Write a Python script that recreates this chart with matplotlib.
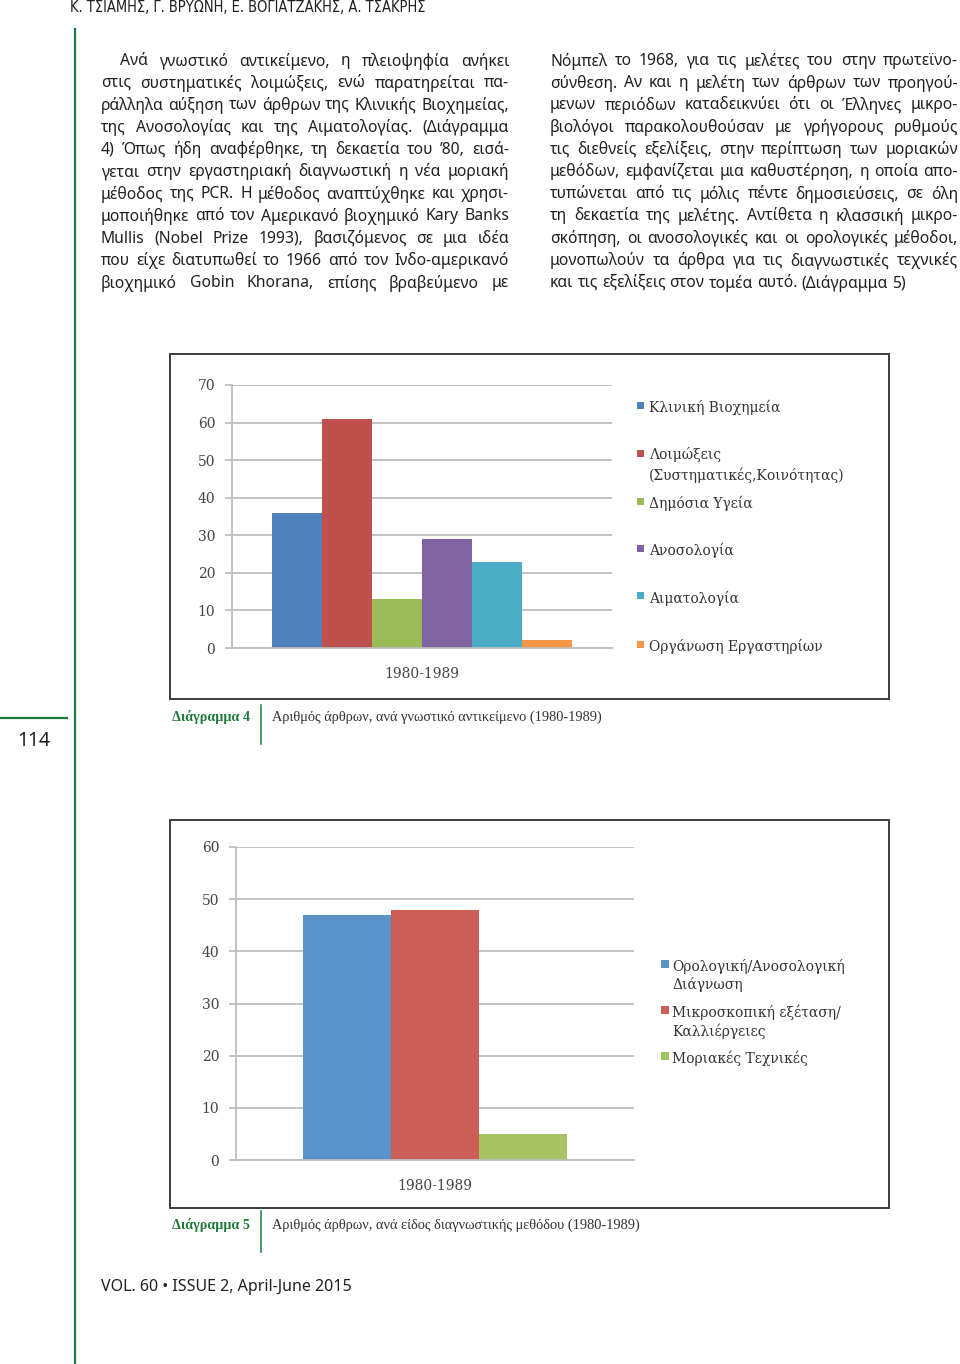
import matplotlib
matplotlib.use('Agg')
import matplotlib.pyplot as plt
from matplotlib.patches import Rectangle
from matplotlib.lines import Line2D

W, H = 960, 1364

# ---------------- data ----------------
period = '1980-1989'

subjects = ['Κλινική Βιοχημεία', 'Λοιμώξεις\n(Συστηματικές,Κοινότητας)', 'Δημόσια Υγεία',
            'Ανοσολογία', 'Αιματολογία', 'Οργάνωση Εργαστηρίων']
subject_counts = [36, 61, 13, 29, 23, 2]
subject_colors = ['#4f81bd', '#c0504d', '#9bbb59', '#8064a2', '#4bacc6', '#f79646']

methods = ['Ορολογική/Ανοσολογική\nΔιάγνωση', 'Μικροσκοπική εξέταση/\nΚαλλιέργειες', 'Μοριακές Τεχνικές']
method_counts = [47, 48, 5]
method_colors = ['#5b93cb', '#cc5e57', '#a6c263']

header = 'Κ. ΤΣΙΑΜΗΣ, Γ. ΒΡΥΩΝΗ, Ε. ΒΟΓΙΑΤΖΑΚΗΣ, Α. ΤΣΑΚΡΗΣ'
footer = 'VOL. 60 \u2022 ISSUE 2, April-June 2015'
page_no = '114'
caption4 = ('Διάγραμμα 4', 'Αριθμός άρθρων, ανά γνωστικό αντικείμενο (1980-1989)')
caption5 = ('Διάγραμμα 5', 'Αριθμός άρθρων, ανά είδος διαγνωστικής μεθόδου (1980-1989)')

left_col = [
    'Ανά γνωστικό αντικείμενο, η πλειοψηφία ανήκει',
    'στις συστηματικές λοιμώξεις, ενώ παρατηρείται πα-',
    'ράλληλα αύξηση των άρθρων της Κλινικής Βιοχημείας,',
    'της Ανοσολογίας και της Αιματολογίας. (Διάγραμμα',
    '4) Όπως ήδη αναφέρθηκε, τη δεκαετία του ’80, εισά-',
    'γεται στην εργαστηριακή διαγνωστική η νέα μοριακή',
    'μέθοδος της PCR. Η μέθοδος αναπτύχθηκε και χρησι-',
    'μοποιήθηκε από τον Αμερικανό βιοχημικό Kary Banks',
    'Mullis (Nobel Prize 1993), βασιζόμενος σε μια ιδέα',
    'που είχε διατυπωθεί το 1966 από τον Ινδο-αμερικανό',
    'βιοχημικό Gobin Khorana, επίσης βραβεύμενο με',
]
right_col = [
    'Νόμπελ το 1968, για τις μελέτες του στην πρωτεϊνο-',
    'σύνθεση. Αν και η μελέτη των άρθρων των προηγού-',
    'μενων περιόδων καταδεικνύει ότι οι Έλληνες μικρο-',
    'βιολόγοι παρακολουθούσαν με γρήγορους ρυθμούς',
    'τις διεθνείς εξελίξεις, στην περίπτωση των μοριακών',
    'μεθόδων, εμφανίζεται μια καθυστέρηση, η οποία απο-',
    'τυπώνεται από τις μόλις πέντε δημοσιεύσεις, σε όλη',
    'τη δεκαετία της μελέτης. Αντίθετα η κλασσική μικρο-',
    'σκόπηση, οι ανοσολογικές και οι ορολογικές μέθοδοι,',
    'μονοπωλούν τα άρθρα για τις διαγνωστικές τεχνικές',
    'και τις εξελίξεις στον τομέα αυτό. (Διάγραμμα 5)',
]

# ---------------- page ----------------
green = '#1f7a3c'
ink = '#231f20'
body_font = ['Noto Sans', 'DejaVu Sans']
chart_font = ['DejaVu Serif']
cap_font = ['Liberation Serif', 'DejaVu Serif']

fig = plt.figure(figsize=(W / 100, H / 100), dpi=100)
fig.patch.set_facecolor('white')
r = fig.canvas.get_renderer()


def fx(x):
    return x / W


def fy(y):
    return 1 - y / H


def width_of(t):
    return t.get_window_extent(renderer=r).width


def fit_text(x0, x1, y, s, **kw):
    t = fig.text(fx(x0), fy(y), s, va='center', ha='left', **kw)
    t.set_fontsize(t.get_fontsize() * (x1 - x0) / width_of(t))
    return t


def body_line(x0, x1, y, s, size, justify=True):
    words = s.split(' ')
    ts = [fig.text(0, fy(y), w, fontsize=size, family=body_font, va='center', color=ink) for w in words]
    ws = [width_of(t) for t in ts]
    if justify and len(words) > 1:
        gap = (x1 - x0 - sum(ws)) / (len(words) - 1)
    else:
        gap = size * 0.26 * 100 / 72
    x = x0
    for t, w in zip(ts, ws):
        t.set_x(fx(x))
        x += w + gap


# common body size: as close to 12pt as the widest line allows
size = 12
ratio = 1.0
for i, s in enumerate(left_col + right_col):
    avail = 389 if i == 0 else 408
    t = fig.text(0, 0, s, fontsize=size, family=body_font)
    ratio = min(ratio, avail * 0.99 / width_of(t))
    t.remove()
body_size = size * ratio

for i, s in enumerate(left_col):
    y = 61 + i * 22.2
    body_line(120 if i == 0 else 101, 509, y, s, body_size)
for i, s in enumerate(right_col):
    y = 61 + i * 22.2
    body_line(550, 958, y, s, body_size, justify=(i < len(right_col) - 1))

fit_text(70, 427, 8, header, fontsize=11, family=['Liberation Sans Narrow', 'DejaVu Sans'],
         fontstretch='condensed', color=ink)
fit_text(101, 352, 1287, footer, fontsize=11, family=body_font, color=ink)
fit_text(17, 50, 741, page_no, fontsize=14, family=body_font, color=ink)

fig.add_artist(Line2D([fx(75), fx(75)], [fy(29), 0], color=green, lw=1.6))
fig.add_artist(Line2D([0, fx(67)], [fy(718), fy(718)], color=green, lw=1.6))

for cap, ycap, yl, xend in [(caption4, 717, (705, 744), 603), (caption5, 1225, (1211, 1252), 641)]:
    fit_text(172, 250, ycap, cap[0], fontsize=10, family=cap_font, weight='bold', color=green)
    fit_text(272, xend, ycap, cap[1], fontsize=10, family=cap_font, color='#333333')
    fig.add_artist(Line2D([fx(261), fx(261)], [fy(yl[0]), fy(yl[1])], color=green, lw=1.1))

# chart frames
for top, bot in [(354, 699), (820, 1208)]:
    fig.add_artist(Rectangle((fx(170), fy(bot)), (889 - 170) / W, (bot - top) / H,
                             transform=fig.transFigure, fill=False, ec='#3c3c3c', lw=1.4))


def style_axes(ax, ymax):
    ax.set_ylim(0, ymax)
    ax.set_yticks(range(0, ymax + 1, 10))
    ax.yaxis.grid(True, color='#bdbdbd', lw=1.3)
    ax.set_axisbelow(True)
    for side in ['top', 'right']:
        ax.spines[side].set_visible(False)
    for side in ['left', 'bottom']:
        ax.spines[side].set_color('#bdbdbd')
        ax.spines[side].set_linewidth(1.3)
    ax.tick_params(axis='y', length=5, color='#bdbdbd', width=1.3, labelsize=10,
                   labelcolor='#444444', pad=7)
    ax.tick_params(axis='x', length=0, labelsize=10, labelcolor='#444444', pad=14)
    for lab in ax.get_xticklabels() + ax.get_yticklabels():
        lab.set_family(chart_font)
    ax.set_facecolor('none')


def draw_legend(labels, colors, x_sq, x_txt, ys, sq, line_gap):
    for lab, c, y in zip(labels, colors, ys):
        fig.add_artist(Rectangle((fx(x_sq), fy(y + sq / 2 - 2)), sq / W, sq / H,
                                 transform=fig.transFigure, fc=c, ec='none'))
        for k, part in enumerate(lab.split('\n')):
            fig.text(fx(x_txt), fy(y + k * line_gap), part, fontsize=10, family=chart_font,
                     va='center', ha='left', color='#333333')


# ---- Diagram 4 ----
ax1 = fig.add_axes([fx(232), fy(648), (612 - 232) / W, (648 - 385) / H])
offsets = [i - (len(subjects) - 1) / 2 for i in range(len(subjects))]
ax1.bar(offsets, subject_counts, width=1.0, color=subject_colors)
ax1.set_xlim(-3.8, 3.8)
ax1.set_xticks([0])
ax1.set_xticklabels([period])
style_axes(ax1, 70)
draw_legend(subjects, subject_colors, 637, 649, [407, 455, 503, 550, 598, 646], 7, 20)

# ---- Diagram 5 ----
ax2 = fig.add_axes([fx(236), fy(1160), (634 - 236) / W, (1160 - 847) / H])
offsets = [i - (len(methods) - 1) / 2 for i in range(len(methods))]
ax2.bar(offsets, method_counts, width=1.0, color=method_colors)
ax2.set_xlim(-2.26, 2.26)
ax2.set_xticks([0])
ax2.set_xticklabels([period])
style_axes(ax2, 60)
draw_legend(methods, method_colors, 661, 672, [966, 1012, 1058], 8, 19)

fig.savefig('out.png', dpi=100)
